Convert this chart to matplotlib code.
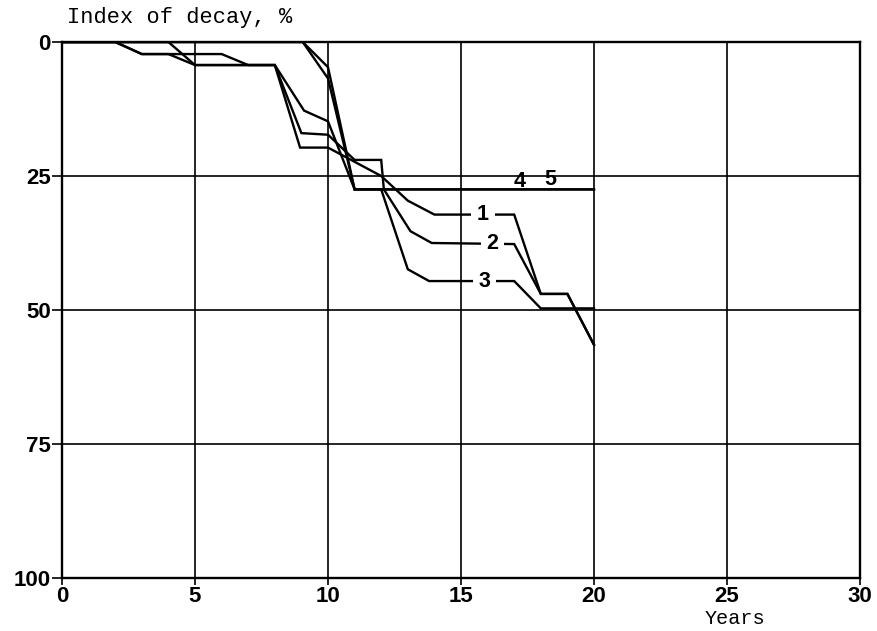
import matplotlib
matplotlib.use("Agg")
import matplotlib.pyplot as plt

# ---- data (years vs index of decay, %) ----
years_1 = [0, 2, 3, 4, 5, 8, 8.95, 10, 12, 13, 14, 17, 18, 19, 20]
decay_1 = [0, 0, 2.25, 2.25, 4.3, 4.3, 19.7, 19.7, 25, 29.6, 32.2, 32.2, 47, 47, 56.5]

years_2 = [0, 4, 5, 8, 9, 10, 11, 12, 12.1, 13.1, 13.9, 17, 18, 19, 20]
decay_2 = [0, 0, 4.3, 4.3, 17, 17.3, 22, 22, 27.5, 35.3, 37.5, 37.7, 47, 47, 56.5]

years_3 = [0, 2, 3, 6, 7, 8, 9.1, 10, 11, 12, 13, 13.8, 17, 18, 20]
decay_3 = [0, 0, 2.25, 2.25, 4.3, 4.3, 12.8, 14.8, 27.5, 27.5, 42.4, 44.6, 44.6, 49.7, 49.7]

years_4 = [0, 9.05, 10, 11, 20]
decay_4 = [0, 0, 4.7, 27.5, 27.5]

years_5 = [0, 9.05, 10, 11, 20]
decay_5 = [0, 0, 6.8, 27.5, 27.5]

series_names = ["1", "2", "3", "4", "5"]
label_x = [15.83, 16.17, 15.9, 17.2, 18.35]
label_y = [32.2, 37.6, 44.6, 26.0, 25.6]

x_ticks = [0, 5, 10, 15, 20, 25, 30]
y_ticks = [0, 25, 50, 75, 100]

# ---- figure ----
fig = plt.figure(figsize=(8.78, 6.31), dpi=100)
ax = fig.add_axes([62 / 878, 1 - 578 / 631, (860 - 62) / 878, (578 - 42) / 631])

ax.set_xlim(0, 30)
ax.set_ylim(100, 0)

for xs, ys in [(years_1, decay_1), (years_2, decay_2), (years_3, decay_3),
               (years_4, decay_4), (years_5, decay_5)]:
    ax.plot(xs, ys, color="black", lw=1.7, zorder=3, solid_joinstyle="miter")

# labels: 1-3 break their lines, 4-5 sit above the line
for i, name in enumerate(series_names):
    if i < 3:
        ax.text(label_x[i], label_y[i], name, ha="center", va="center",
                fontsize=15.5, fontweight="bold", family="Liberation Sans",
                zorder=5,
                bbox=dict(facecolor="white", edgecolor="none", pad=4))
    else:
        ax.text(label_x[i], label_y[i], name, ha="center", va="center",
                fontsize=15.5, fontweight="bold", family="Liberation Sans", zorder=5)

ax.set_xticks(x_ticks)
ax.set_yticks(y_ticks)
ax.set_xticklabels([str(v) for v in x_ticks])
ax.set_yticklabels([str(v) for v in y_ticks])
ax.grid(True, color="black", lw=1.2)
ax.set_axisbelow(True)
for s in ax.spines.values():
    s.set_linewidth(1.7)
    s.set_color("black")

ax.tick_params(axis="y", direction="out", length=7, width=1.2, pad=1,
               labelsize=16)
ax.tick_params(axis="x", direction="out", length=5, width=1.2, pad=1,
               labelsize=16)
for lab in ax.get_xticklabels() + ax.get_yticklabels():
    lab.set_family("Liberation Sans")
    lab.set_fontweight("bold")

fig.text(67 / 878, 1 - 18 / 631, "Index of decay, %", family="Liberation Mono",
         fontsize=15.8, ha="left", va="center")
ax.text(25.3, -0.076, "Years", transform=ax.get_xaxis_transform(),
        family="Liberation Mono", fontsize=14.5, ha="center", va="center")

fig.savefig("out.png", dpi=100, facecolor="white")
